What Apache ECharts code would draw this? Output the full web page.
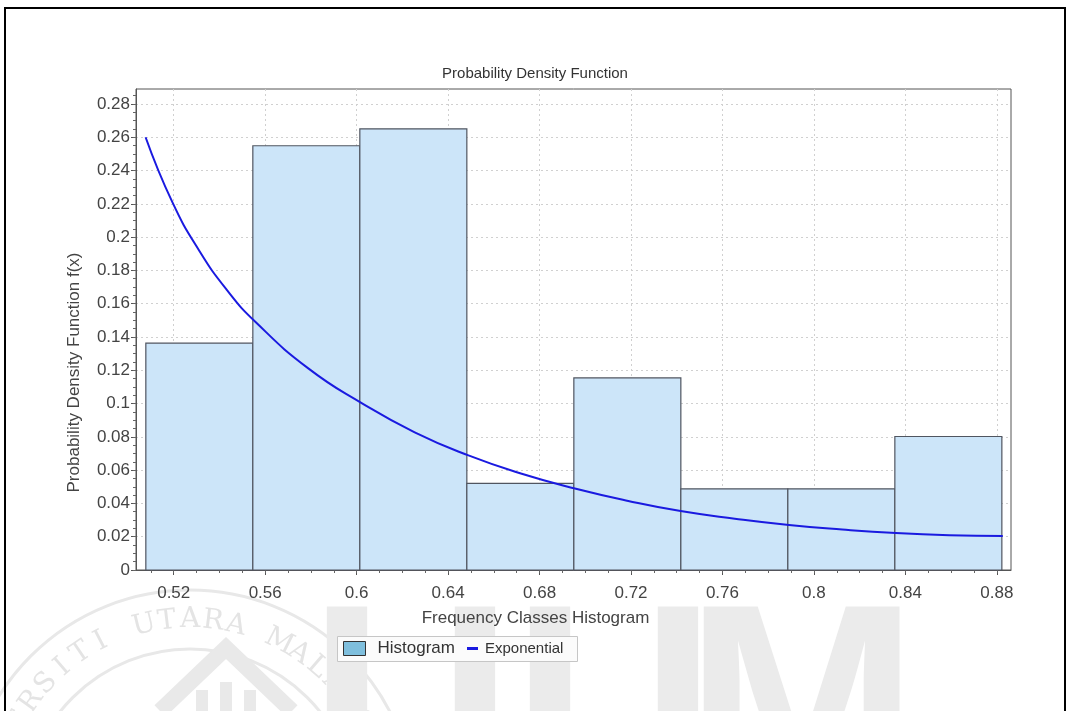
<!DOCTYPE html>
<html>
<head>
<meta charset="utf-8">
<title>Probability Density Function</title>
<script src="https://cdn.jsdelivr.net/npm/echarts@6/dist/echarts.min.js"></script>
<style>
  html, body { margin: 0; padding: 0; background: #fff; }
  #chart { width: 1070px; height: 711px; }
</style>
</head>
<body>
<div id="chart"></div>
<script>
// Histogram classes: edges of the eight frequency classes and their heights
const binEdges = [0.5078, 0.5546, 0.6014, 0.6482, 0.6950, 0.7418, 0.7886, 0.8354, 0.8822];
const binHeights = [0.1363, 0.2549, 0.2651, 0.0520, 0.1154, 0.0488, 0.0488, 0.0802];

// Fitted exponential density f(x), sampled across the class range
const expX = [0.5077, 0.5194, 0.5311, 0.5434, 0.5558, 0.5790, 0.6022, 0.6254, 0.6486, 0.6722,
              0.6959, 0.7188, 0.7417, 0.7654, 0.7891, 0.8124, 0.8358, 0.8592, 0.8826];
const expY = [0.260, 0.221, 0.192, 0.168, 0.149, 0.121, 0.1003, 0.0827, 0.0690, 0.0578,
              0.0488, 0.0415, 0.0354, 0.0308, 0.0270, 0.0243, 0.0222, 0.0209, 0.0204];

// Axis tick labels
const xTicks = [0.52, 0.56, 0.6, 0.64, 0.68, 0.72, 0.76, 0.8, 0.84, 0.88];
const yTicks = [0, 0.02, 0.04, 0.06, 0.08, 0.1, 0.12, 0.14, 0.16, 0.18, 0.2, 0.22, 0.24, 0.26, 0.28];

const X_MIN = 0.5035, X_MAX = 0.8862;
const Y_MIN = 0, Y_MAX = 0.289;

// minor tick positions (0.01 on x, 0.005 on y)
const xMinor = [];
for (let k = 51; k <= 88; k++) xMinor.push(k / 100);
const yMinor = [];
for (let k = 0; k <= 57; k++) yMinor.push(k * 5 / 1000);

const FONT = "'Liberation Sans', Arial, sans-serif";
const fmt = v => String(Math.round(v * 1000) / 1000);

const histData = binHeights.map((h, i) => [binEdges[i], binEdges[i + 1], h]);
const expData = expX.map((x, i) => [x, expY[i]]);

// faint university seal + lettering behind the chart
const watermark = [];
const sealCx = 190, sealCy = 815, sealR = 195;
const sealText = 'UNIVERSITI UTARA MALAYSIA';
const step = 6.8 * Math.PI / 180;
for (let i = 0; i < sealText.length; i++) {
  const ch = sealText[i];
  if (ch === ' ') continue;
  const th = Math.PI / 2 + (13 - i) * step;
  watermark.push({
    type: 'text', z: 0, silent: true,
    x: sealCx + sealR * Math.cos(th),
    y: sealCy - sealR * Math.sin(th),
    rotation: th - Math.PI / 2,
    style: { text: ch, font: "28px 'DejaVu Serif'", fill: '#e4e4e4', align: 'center', verticalAlign: 'middle' }
  });
}
watermark.push(
  { type: 'circle', z: 0, silent: true, shape: { cx: sealCx, cy: sealCy, r: 225 }, style: { fill: 'none', stroke: '#e8e8e8', lineWidth: 3 } },
  { type: 'circle', z: 0, silent: true, shape: { cx: sealCx, cy: sealCy, r: 166 }, style: { fill: 'none', stroke: '#e8e8e8', lineWidth: 3 } },
  { type: 'polyline', z: 0, silent: true, shape: { points: [[160, 711], [226, 648], [292, 711]] }, style: { fill: 'none', stroke: '#e9e9e9', lineWidth: 16 } },
  { type: 'rect', z: 0, silent: true, shape: { x: 196, y: 690, width: 12, height: 30 }, style: { fill: '#e9e9e9' } },
  { type: 'rect', z: 0, silent: true, shape: { x: 220, y: 682, width: 12, height: 40 }, style: { fill: '#e9e9e9' } },
  { type: 'rect', z: 0, silent: true, shape: { x: 244, y: 690, width: 12, height: 30 }, style: { fill: '#e9e9e9' } }
);
[['U', 310], ['U', 513], ['M', 685]].forEach(([t, x]) => {
  watermark.push({
    type: 'text', z: 0, silent: true, x: x, y: 582,
    style: { text: t, font: "bold 280px 'Liberation Sans'", fill: '#ebebeb', align: 'left', verticalAlign: 'top' }
  });
});

const chart = echarts.init(document.getElementById('chart'), null, { renderer: 'canvas' });

chart.setOption({
  backgroundColor: '#ffffff',
  animation: false,
  title: {
    text: 'Probability Density Function',
    left: 'center',
    top: 61,
    textStyle: { fontFamily: FONT, fontSize: 15, fontWeight: 'normal', color: '#333' }
  },
  grid: {
    left: 136, right: 59, top: 89, bottom: 141,
    show: true, borderColor: '#555', borderWidth: 1
  },
  legend: [
    {
      data: [{ name: 'Histogram', icon: 'rect', itemStyle: { color: '#7fbfdd', borderColor: '#333', borderWidth: 1 } }],
      left: 343, top: 640, padding: 0,
      itemWidth: 22, itemHeight: 14,
      selectedMode: false,
      textStyle: { fontFamily: FONT, fontSize: 17, color: '#333', padding: [0, 0, 0, 7] }
    },
    {
      data: [{ name: 'Exponential', icon: 'rect', itemStyle: { color: '#1a1ae0', borderWidth: 0 } }],
      left: 467, top: 641, padding: 0,
      itemWidth: 11, itemHeight: 3,
      selectedMode: false,
      textStyle: { fontFamily: FONT, fontSize: 15, color: '#333', padding: [0, 0, 0, 2] }
    }
  ],
  graphic: watermark.concat([
    { type: 'rect', z: 3, silent: true, shape: { x: 337.5, y: 636.5, width: 240, height: 25 }, style: { fill: '#fbfbfb', stroke: '#c6c6c6', lineWidth: 1 } },
    { type: 'rect', z: 5, silent: true, shape: { x: 5, y: 8, width: 1060, height: 720 }, style: { fill: 'none', stroke: '#000', lineWidth: 2 } }
  ]),
  xAxis: [
    {
      type: 'value', min: X_MIN, max: X_MAX,
      name: 'Frequency Classes Histogram',
      nameLocation: 'middle', nameGap: 40,
      nameTextStyle: { fontFamily: FONT, fontSize: 17, color: '#444', padding: [0, 76, 0, 0] },
      axisLine: { show: true, onZero: false, lineStyle: { color: '#555', width: 1 } },
      axisTick: { show: true, customValues: xTicks, length: 5, lineStyle: { color: '#555' } },
      axisLabel: { customValues: xTicks, margin: 15, fontFamily: FONT, fontSize: 17, color: '#444', formatter: fmt },
      splitLine: { show: true, lineStyle: { color: '#d0d0d0', width: 1, type: [2, 3] } }
    },
    {
      type: 'value', min: X_MIN, max: X_MAX, position: 'bottom',
      axisLine: { show: false },
      axisTick: { show: true, customValues: xMinor, length: 3, lineStyle: { color: '#666' } },
      axisLabel: { show: false },
      splitLine: { show: false }
    }
  ],
  yAxis: [
    {
      type: 'value', min: Y_MIN, max: Y_MAX,
      name: 'Probability Density Function f(x)',
      nameLocation: 'middle', nameGap: 53,
      nameTextStyle: { fontFamily: FONT, fontSize: 17, color: '#444', padding: [0, 86, 0, 0] },
      axisLine: { show: true, onZero: false, lineStyle: { color: '#555', width: 1 } },
      axisTick: { show: true, customValues: yTicks, length: 5, lineStyle: { color: '#555' } },
      axisLabel: { customValues: yTicks, margin: 6, fontFamily: FONT, fontSize: 17, color: '#444', formatter: fmt },
      splitLine: { show: true, lineStyle: { color: '#d0d0d0', width: 1, type: [2, 3] } }
    },
    {
      type: 'value', min: Y_MIN, max: Y_MAX, position: 'left',
      axisLine: { show: false },
      axisTick: { show: true, customValues: yMinor, length: 3, lineStyle: { color: '#666' } },
      axisLabel: { show: false },
      splitLine: { show: false }
    }
  ],
  series: [
    {
      name: 'Histogram',
      type: 'custom',
      xAxisIndex: 0, yAxisIndex: 0,
      data: histData,
      encode: { x: [0, 1], y: 2 },
      z: 2,
      renderItem: function (params, api) {
        const topLeft = api.coord([api.value(0), api.value(2)]);
        const bottomRight = api.coord([api.value(1), 0]);
        return {
          type: 'rect',
          shape: {
            x: topLeft[0], y: topLeft[1],
            width: bottomRight[0] - topLeft[0],
            height: bottomRight[1] - topLeft[1]
          },
          style: { fill: '#cce5f9', stroke: '#505560', lineWidth: 1.2 }
        };
      }
    },
    {
      name: 'Exponential',
      type: 'line',
      xAxisIndex: 0, yAxisIndex: 0,
      data: expData,
      smooth: 0.5,
      showSymbol: false,
      z: 3,
      itemStyle: { color: '#1a1ae0' },
      lineStyle: { color: '#1a1ae0', width: 2 }
    }
  ]
});
</script>
</body>
</html>
